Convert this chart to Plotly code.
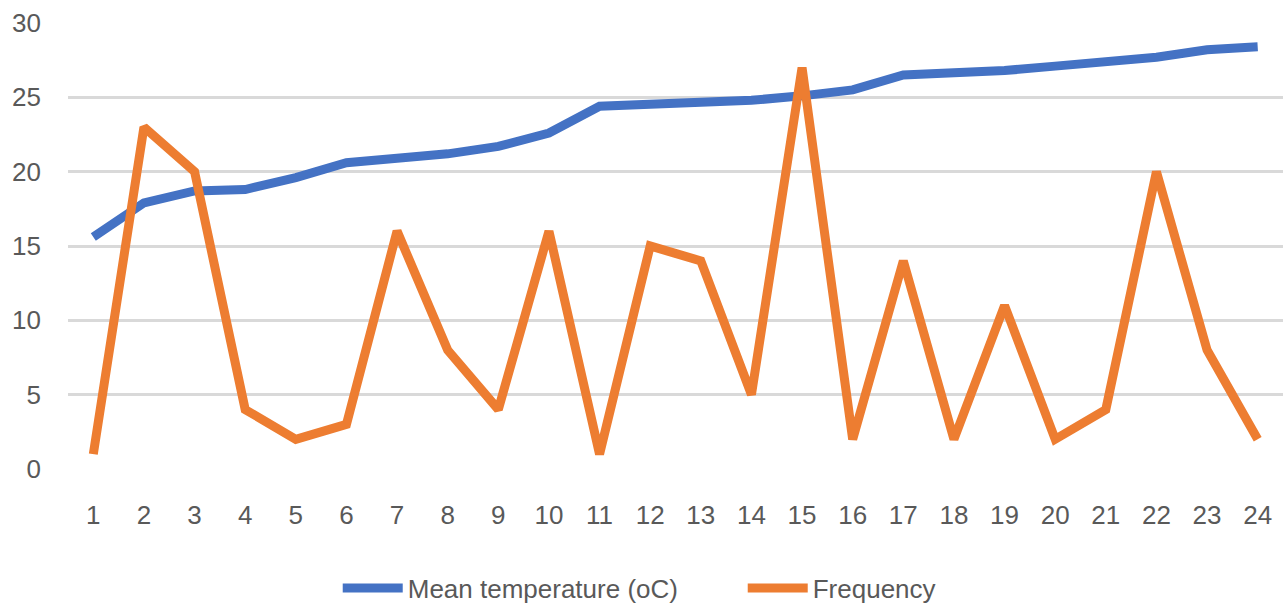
import plotly.graph_objects as go

# Category labels along the x axis
months = [str(i) for i in range(1, 25)]

# Mean temperature per category (°C)
mean_temp = [15.6, 17.9, 18.7, 18.8, 19.6, 20.6, 20.9, 21.2, 21.7, 22.6,
             24.4, 24.5, 24.7, 24.8, 25.1, 25.5, 26.5, 26.6, 26.8, 27.1,
             27.4, 27.7, 28.2, 28.4]

# Frequency per category
frequency = [1, 23, 20, 4, 2, 3, 16, 8, 4, 16, 1, 15, 14, 5, 27, 2, 14, 2,
             11, 2, 4, 20, 8, 2]

y_ticks = [0, 5, 10, 15, 20, 25, 30]

FONT = "Liberation Sans, Arial, sans-serif"
GREY = "#595959"
SIZE = 26

fig = go.Figure()
fig.add_trace(go.Scatter(
    x=months, y=mean_temp, mode="lines", name="Mean temperature (oC)",
    line=dict(color="#4472C4", width=9),
))
fig.add_trace(go.Scatter(
    x=months, y=frequency, mode="lines", name="Frequency",
    line=dict(color="#ED7D31", width=9),
))

fig.update_layout(
    width=1288, height=609,
    margin=dict(l=68, r=5, t=23, b=140, autoexpand=False),
    paper_bgcolor="white", plot_bgcolor="white",
    font=dict(family=FONT, size=SIZE, color=GREY),
    showlegend=True,
    legend=dict(
        orientation="h", x=0.222, xanchor="left", y=-0.267, yanchor="middle",
        font=dict(family=FONT, size=SIZE, color=GREY),
        itemwidth=60, tracegroupgap=0,
        entrywidth=330, entrywidthmode="pixels",
    ),
    xaxis=dict(
        type="category", range=[-0.5, 23.5], automargin=False,
        showgrid=False, zeroline=False, showline=False,
        ticks="", ticklabelstandoff=28,
        tickfont=dict(family=FONT, size=SIZE, color=GREY),
    ),
    yaxis=dict(
        range=[0, 30], tickvals=y_ticks, automargin=False,
        showgrid=True, gridcolor="#D9D9D9", gridwidth=2.5,
        zeroline=False, showline=False, ticks="",
        ticklabelstandoff=26,
        tickfont=dict(family=FONT, size=SIZE, color=GREY),
    ),
)

fig.write_html("out.html")
